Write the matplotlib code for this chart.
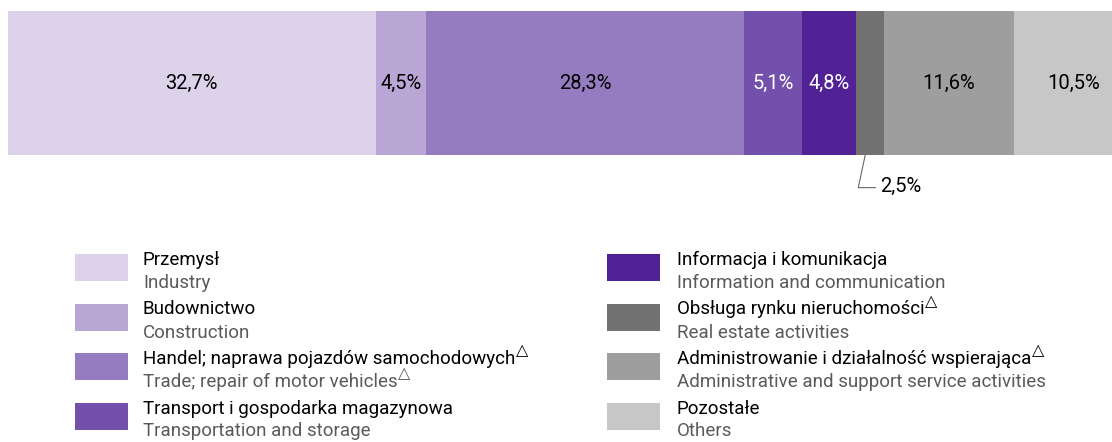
import matplotlib.pyplot as plt
from matplotlib.patches import Rectangle

plt.rcParams['font.family'] = ['Roboto', 'DejaVu Sans']

nazwy_pl = ['Przemysł', 'Budownictwo', 'Handel; naprawa pojazdów samochodowych',
            'Transport i gospodarka magazynowa', 'Informacja i komunikacja',
            'Obsługa rynku nieruchomości', 'Administrowanie i działalność wspierająca',
            'Pozostałe']
nazwy_en = ['Industry', 'Construction', 'Trade; repair of motor vehicles',
            'Transportation and storage', 'Information and communication',
            'Real estate activities', 'Administrative and support service activities',
            'Others']
udzialy = [32.7, 4.5, 28.3, 5.1, 4.8, 2.5, 11.6, 10.5]
etykiety = ['32,7%', '4,5%', '28,3%', '5,1%', '4,8%', '2,5%', '11,6%', '10,5%']
kolory = ['#dcd3ea', '#b9a6d5', '#957cc0', '#7450ad', '#502296',
          '#727272', '#9d9e9d', '#c6c7c6']
kolory_tekstu = ['black', 'black', 'black', 'white', 'white', 'black', 'black', 'black']
trojkat_pl = [False, False, True, False, False, True, True, False]
trojkat_en = [False, False, True, False, False, False, False, False]

W, H = 1112, 442
fig = plt.figure(figsize=(W / 100, H / 100), dpi=100)
ax = fig.add_axes([8 / W, 1 - 155 / H, 1 - 8 / W, 144 / H])

lewo = 0
for i, v in enumerate(udzialy):
    ax.barh(0, v, left=lewo, height=1, color=kolory[i], edgecolor='none')
    srodek = lewo + v / 2
    if etykiety[i] == '2,5%':
        # podpis pod paskiem z linia
        ax.annotate(etykiety[i], xy=(srodek - 0.4, -0.5), xytext=(srodek + 0.9, -0.72),
                    ha='left', va='center', fontsize=14.5, color='black',
                    arrowprops=dict(arrowstyle='-', color='#666666', lw=0.8,
                                    connectionstyle='angle,angleA=0,angleB=78,rad=0',
                                    relpos=(0, 0.45), shrinkA=1, shrinkB=0),
                    annotation_clip=False)
    else:
        ax.text(srodek, 0, etykiety[i], ha='center', va='center',
                fontsize=14.5, color=kolory_tekstu[i])
    lewo += v

ax.set_xlim(0, 98.2)
ax.set_ylim(-0.5, 0.5)
ax.axis('off')

# legenda
for i in range(len(nazwy_pl)):
    kol = i // 4
    wiersz = i % 4
    x_kw = [75, 607][kol]
    x_t = [143, 677][kol]
    y_kw = 254 + wiersz * 49.5
    fig.patches.append(Rectangle((x_kw / W, 1 - (y_kw + 27) / H), 53 / W, 27 / H,
                                 transform=fig.transFigure, color=kolory[i], ec='none'))
    t1 = fig.text(x_t / W, 1 - (y_kw + 6) / H, nazwy_pl[i], fontsize=13.5,
                  color='black', va='center', ha='left')
    t2 = fig.text(x_t / W, 1 - (y_kw + 29) / H, nazwy_en[i], fontsize=13.5,
                  color='#5a5a5a', va='center', ha='left')
    if trojkat_pl[i]:
        plt.annotate('△', xy=(1, 0.55), xycoords=t1, xytext=(0.5, 0),
                     textcoords='offset points', fontsize=11.5, va='bottom',
                     ha='left', family='DejaVu Sans', annotation_clip=False)
    if trojkat_en[i]:
        plt.annotate('△', xy=(1, 0.55), xycoords=t2, xytext=(0.5, 0),
                     textcoords='offset points', fontsize=11.5, va='bottom',
                     ha='left', family='DejaVu Sans', color='#5a5a5a',
                     annotation_clip=False)

fig.savefig('out.png', dpi=100)
